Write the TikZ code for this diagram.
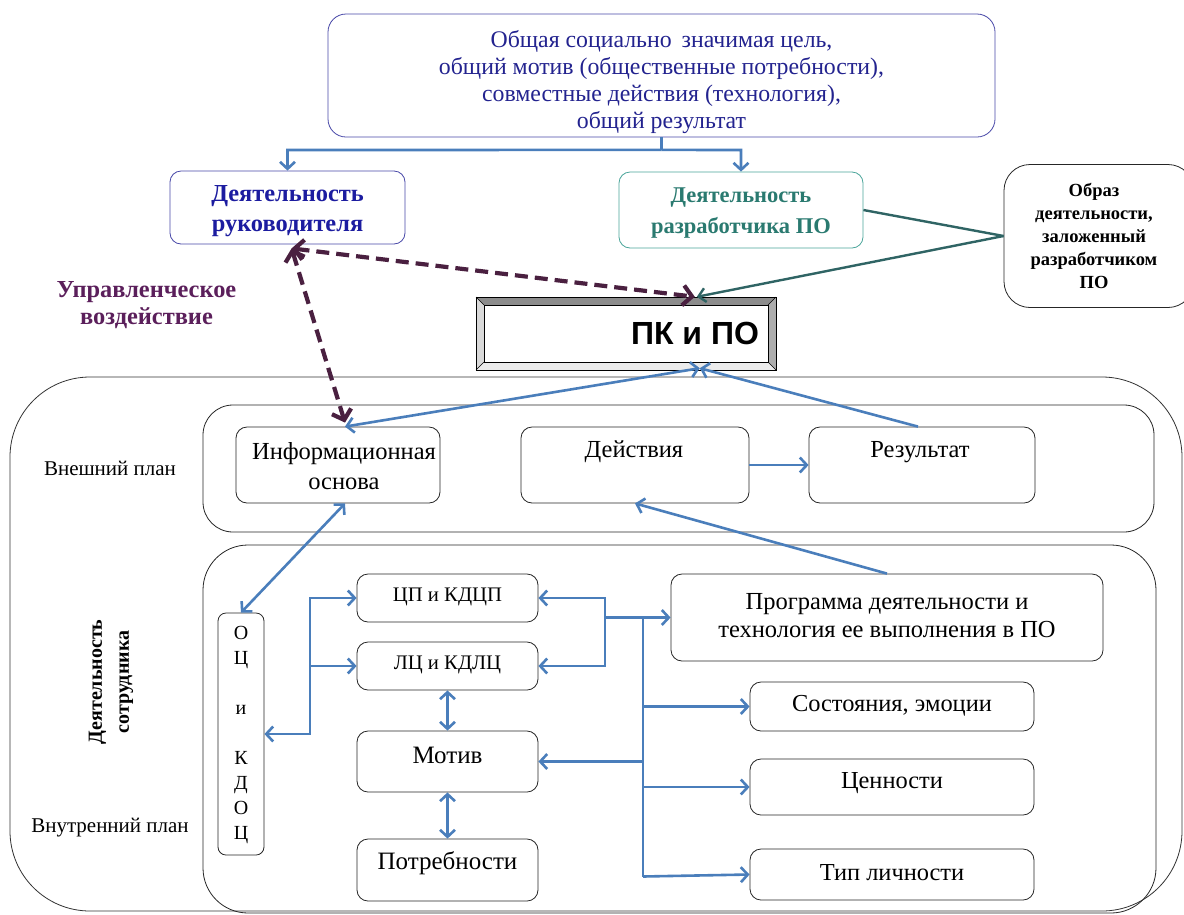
\documentclass[tikz,border=0pt]{standalone}
\usepackage{fontspec}
\setmainfont{Liberation Serif}
\newfontfamily\pksans{Liberation Sans}
\usetikzlibrary{arrows.meta,calc}
\definecolor{navy}{HTML}{23238F}
\definecolor{navyb}{HTML}{4848A8}
\definecolor{rukc}{HTML}{1C1CA0}
\definecolor{tealt}{HTML}{2A7A70}
\definecolor{tealb}{HTML}{4AA59A}
\definecolor{tealline}{HTML}{2F6464}
\definecolor{arrblue}{HTML}{4A7EBB}
\definecolor{dashc}{HTML}{4A2040}
\definecolor{purp}{HTML}{5B1F5B}
\tikzset{
  box/.style={draw=black!85, line width=0.8pt, rounded corners=11pt, fill=white, inner sep=0pt},
  txt/.style={align=center, inner sep=0pt, font=\fontsize{24.5}{30}\selectfont},
  small/.style={txt, font=\fontsize{24.4}{28}\selectfont},
  bl/.style={draw=arrblue, line width=2.6pt},
  barr/.style={bl, -{Straight Barb[length=7pt,width=15pt]}},
  bdbl/.style={bl, {Straight Barb[length=7pt,width=15pt]}-{Straight Barb[length=7pt,width=15pt]}},
  dsh/.style={draw=dashc, line width=4.2pt, dash pattern=on 13pt off 7pt,
     {Straight Barb[length=9pt,width=20pt]}-{Straight Barb[length=9pt,width=20pt]}},
  tl/.style={draw=tealline, line width=2.4pt}
}
\begin{document}
\begin{tikzpicture}[x=1pt,y=-1pt]
\useasboundingbox (0,0) rectangle (1184,914);
\clip (0,0) rectangle (1184,914);
\fill[white] (0,0) rectangle (1184,914);

% big frames
\draw[line width=0.8pt, draw=black!80, rounded corners=80pt] (10,377) rectangle (1182,911);
\draw[line width=0.8pt, draw=black!85, rounded corners=30pt] (203,405) rectangle (1154,532);
\draw[line width=0.8pt, draw=black!85, rounded corners=45pt] (203,545) rectangle (1156,913);

% top
\node[box, draw=navyb, rounded corners=18pt, minimum width=667pt, minimum height=123pt] (top) at (661.5,75.5) {};
\node[txt, text=navy, font=\fontsize{23.8}{27}\selectfont] (topt) at (661.5,82) {Общая социально\, значимая цель,\\общий мотив (общественные потребности),\\совместные действия (технология),\\общий результат};

\node[box, draw=navyb, minimum width=235pt, minimum height=73pt] (ruk) at (287.5,207.5) {};
\node[txt, text=rukc, font=\bfseries\fontsize{24.4}{30}\selectfont] (rukt) at (287.5,211) {Деятельность\\руководителя};

\node[box, draw=tealb, minimum width=244pt, minimum height=76pt] (razr) at (741,210) {};
\node[txt, text=tealt, font=\bfseries\fontsize{22.5}{31}\selectfont] (razrt) at (741,213) {Деятельность\\разработчика ПО};

\node[box, rounded corners=26pt, minimum width=190pt, minimum height=143pt] (obraz) at (1099,236) {};
\node[txt, font=\bfseries\fontsize{18.5}{23}\selectfont] (obrazt) at (1094,236) {Образ\\деятельности,\\заложенный\\разработчиком\\ПО};

\node[txt, text=purp, font=\bfseries\fontsize{24.4}{27}\selectfont] (upr) at (146.5,305) {Управленческое\\воздействие};

% PK bevel
\fill[black!45] (476,297) -- (776,297) -- (768,305) -- (484,305) -- cycle;
\fill[black!15] (476,297) -- (484,305) -- (484,362) -- (476,370) -- cycle;
\fill[black!32] (776,297) -- (776,370) -- (768,362) -- (768,305) -- cycle;
\fill[black!8] (476,370) -- (776,370) -- (768,362) -- (484,362) -- cycle;
\draw[line width=0.7pt] (476,297) rectangle (776,370);
\draw[line width=0.5pt] (484,305) rectangle (768,362);
\draw[line width=0.5pt] (476,297) -- (484,305) (776,297) -- (768,305) (476,370) -- (484,362) (776,370) -- (768,362);
\node[minimum width=300pt, minimum height=73pt, inner sep=0pt] (pk) at (626,333.5) {};
\node[inner sep=0pt, font=\pksans\bfseries\fontsize{32}{36}\selectfont] (pkt) at (695,333) {ПК и ПО};

% upper plan
\node[txt, font=\fontsize{21}{24}\selectfont] (vnesh) at (110,468) {Внешний план};
\node[box, minimum width=204pt, minimum height=76pt] (inf) at (338,465) {};
\node[txt] (inft) at (344,466) {Информационная\\основа};
\node[box, minimum width=228pt, minimum height=76pt] (dej) at (635,465) {};
\node[txt] (dejt) at (634,452) {Действия};
\node[box, minimum width=226pt, minimum height=76pt] (res) at (922,465) {};
\node[txt] (rest) at (920,452) {Результат};

% lower plan
\node[txt, font=\fontsize{21}{24}\selectfont] (vnutr) at (110,828) {Внутренний план};
\node[txt, rotate=90, font=\bfseries\fontsize{20}{27}\selectfont] (sotr) at (111,682) {Деятельность\\сотрудника};

\node[box, rounded corners=8pt, minimum width=46pt, minimum height=242pt] (oc) at (241,734) {};
\node[txt, font=\fontsize{20}{24.9}\selectfont] (oct) at (241,735) {О\\Ц\\\strut\\и\\\strut\\К\\Д\\О\\Ц};

\node[box, minimum width=181pt, minimum height=48pt] (cp) at (447.5,598) {};
\node[txt, font=\fontsize{20.7}{24}\selectfont] (cpt) at (447.5,597) {ЦП и КДЦП};
\node[box, minimum width=181pt, minimum height=48pt] (lc) at (447.5,666) {};
\node[txt, font=\fontsize{20.7}{24}\selectfont] (lct) at (447.5,665) {ЛЦ и КДЛЦ};
\node[box, minimum width=181pt, minimum height=61pt] (motiv) at (447.5,761.5) {};
\node[txt, font=\fontsize{25}{30}\selectfont] (motivt) at (447.5,755) {Мотив};
\node[box, minimum width=181pt, minimum height=62pt] (potr) at (447.5,870) {};
\node[txt, font=\fontsize{25}{30}\selectfont] (potrt) at (447.5,863) {Потребности};

\node[box, minimum width=432pt, minimum height=87pt] (prog) at (887,617.5) {};
\node[txt, font=\fontsize{24.5}{28}\selectfont] (progt) at (887,616) {Программа деятельности и\\технология ее выполнения в ПО};
\node[box, minimum width=284pt, minimum height=49pt] (sost) at (892,706.5) {};
\node[small] (sostt) at (892,706) {Состояния, эмоции};
\node[box, minimum width=284pt, minimum height=56pt] (cen) at (892,787) {};
\node[small] (cent) at (892,783) {Ценности};
\node[box, minimum width=284pt, minimum height=51pt] (tip) at (892,874.5) {};
\node[small] (tipt) at (892,873) {Тип личности};

% ---- connectors
\draw[bl] (top.south) -- ++(0,12.5) coordinate (tj);
\draw[barr] (tj) -- (287.5,150) -- (ruk.north);
\draw[barr] (tj) -- (741,150) -- (razr.north);

\coordinate (pktop) at ($(pk.north west)+(221,0)$);
\coordinate (pkbot) at ($(pk.south west)+(224,-2)$);
\coordinate (rukbot) at ($(ruk.south west)+(122,4)$);

\draw[tl] (razr.east) -- (obraz.west);
\draw[tl, -{Straight Barb[length=7pt,width=14pt]}] (obraz.west) -- (pktop);

\draw[dsh] (rukbot) -- ($(pktop)+(-2,0)$);
\draw[dsh] (rukbot) -- ($(inf.north)+(7,-4)$);

\draw[bdbl] (pkbot) -- ($(inf.north)+(7,0)$);
\draw[barr] ($(res.north)+(-4,0)$) -- (pkbot);
\draw[barr] (dej.east) -- (res.west);
\draw[barr] (prog.north) -- (dej.south);
\draw[bdbl] ($(inf.south)+(7,0)$) -- (oc.north);

\draw[bdbl] (oc.east) -| (310,598) -- (cp.west);
\draw[barr] (310,666) -- (lc.west);
\draw[bdbl] (cp.east) -- (605,598) -- (605,666) -- (lc.east);
\draw[barr] (605,617.5) -- (prog.west);
\draw[bl] (643,617.5) -- (643,877);
\draw[barr] (643,706.5) -- (sost.west);
\draw[barr] (643,787) -- (cen.west);
\draw[barr] (643,876.5) -- (tip.west);
\draw[barr] (643,761.5) -- (motiv.east);
\draw[bdbl] (lc.south) -- (motiv.north);
\draw[bdbl] (motiv.south) -- (potr.north);
\end{tikzpicture}
\end{document}
